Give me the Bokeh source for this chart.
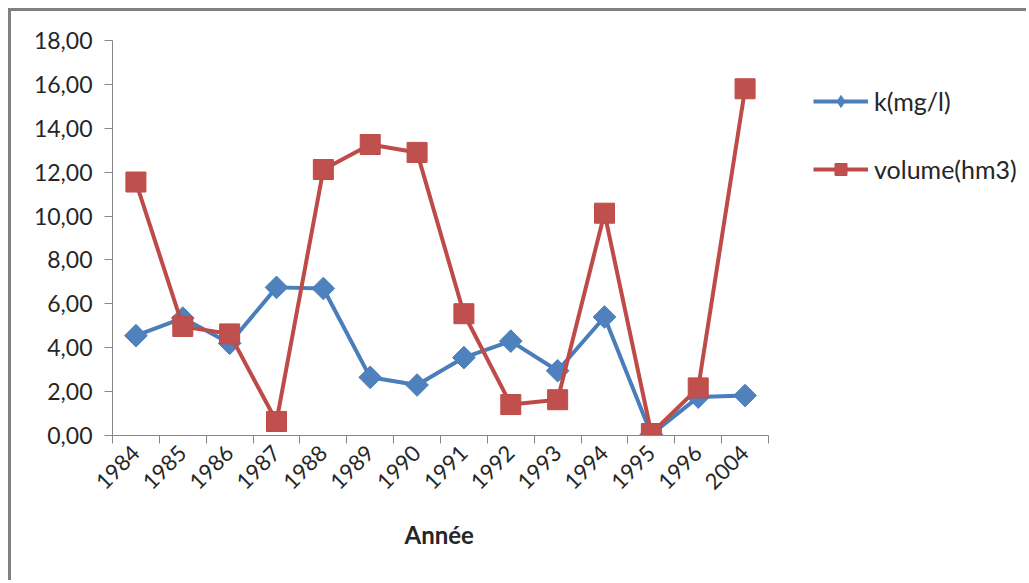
import math
from bokeh.plotting import figure
from bokeh.models import (Range1d, FixedTicker, CustomJSTickFormatter, Legend, LegendItem, Title)
from bokeh.embed import file_html
from bokeh.resources import INLINE

years = ["1984", "1985", "1986", "1987", "1988", "1989", "1990",
         "1991", "1992", "1993", "1994", "1995", "1996", "2004"]
k_mgl = [4.55, 5.35, 4.20, 6.75, 6.70, 2.65, 2.30, 3.55, 4.30, 2.95, 5.40, 0.05, 1.75, 1.82]
volume_hm3 = [11.55, 4.97, 4.63, 0.64, 12.12, 13.26, 12.90, 5.55, 1.41, 1.63, 10.13, 0.09, 2.17, 15.80]
y_ticks = [0, 2, 4, 6, 8, 10, 12, 14, 16, 18]

n = len(years)
xpos = [i + 0.5 for i in range(n)]

BLUE = "#4A7EBB"
BLUE_M = "#4F81BD"
RED = "#BE4B48"
RED_M = "#C0504D"
FONT = "Lato"
TXT = "#262626"

W, H = 1018, 572
LEFT, TOP, BOTTOM = 101, 29, 148
AXIS_PX = 656  # pixel length of the category axis
frame_w = W - LEFT
x_end = n * frame_w / AXIS_PX

p = figure(width=W, height=H, output_backend="svg", toolbar_location=None,
           x_range=Range1d(0, x_end), y_range=Range1d(0, 18),
           min_border_left=LEFT, min_border_top=TOP, min_border_right=0,
           min_border_bottom=BOTTOM,
           styles={"margin-left": "8px", "margin-top": "8px",
                   "border-top": "3px solid #808080", "border-left": "3px solid #808080"})
p.outline_line_color = None
p.xgrid.visible = False
p.ygrid.visible = False
p.background_fill_color = "white"
p.border_fill_color = "white"

# y axis
p.yaxis.ticker = FixedTicker(ticks=y_ticks, minor_ticks=[])
p.yaxis.formatter = CustomJSTickFormatter(code="return tick.toFixed(2).replace('.', ',');")
p.yaxis.axis_line_color = "#868686"
p.yaxis.major_tick_line_color = "#868686"
p.yaxis.major_tick_out = 8
p.yaxis.major_tick_in = 0
p.yaxis.minor_tick_line_color = None
p.yaxis.major_label_text_font = FONT
p.yaxis.major_label_text_font_size = "23px"
p.yaxis.major_label_text_color = TXT
p.yaxis.major_label_standoff = 12

# x axis
p.xaxis.ticker = FixedTicker(ticks=xpos, minor_ticks=list(range(n + 1)))
p.xaxis.bounds = (0, n)
p.xaxis.formatter = CustomJSTickFormatter(args=dict(labels=years),
                                          code="return labels[Math.floor(tick)];")
p.xaxis.axis_line_color = "#868686"
p.xaxis.major_tick_line_color = None
p.xaxis.minor_tick_line_color = "#868686"
p.xaxis.minor_tick_out = 8
p.xaxis.minor_tick_in = 0
p.xaxis.major_label_orientation = math.pi / 4
p.xaxis.major_label_text_font = FONT
p.xaxis.major_label_text_font_size = "22px"
p.xaxis.major_label_text_color = TXT
p.xaxis.major_label_standoff = 6

# x axis title, centred under the category axis
xtitle = Title(text="Année", align="left", offset=292, standoff=36,
               text_font=FONT, text_font_style="bold", text_font_size="24px",
               text_color=TXT)
p.add_layout(xtitle, "below")

lk = p.line(xpos, k_mgl, line_color=BLUE, line_width=4)
sk = p.scatter(xpos, k_mgl, marker="square", angle=math.pi / 4, size=16,
               fill_color=BLUE_M, line_color=BLUE)
lv = p.line(xpos, volume_hm3, line_color=RED, line_width=4)
sv = p.scatter(xpos, volume_hm3, marker="square", size=20,
               fill_color=RED_M, line_color=RED)
# legend-only diamond glyph (hidden in the plot)
dk = p.scatter(xpos, k_mgl, marker="diamond", fill_color=BLUE_M, line_color=BLUE,
               visible=False)

legend = Legend(items=[LegendItem(label="k(mg/l)", renderers=[lk, dk]),
                       LegendItem(label="volume(hm3)", renderers=[lv, sv])],
                location=(701, 251), padding=0, margin=0, spacing=38,
                glyph_width=55, glyph_height=30, label_height=20, label_standoff=6,
                border_line_color=None, background_fill_alpha=0,
                label_text_font=FONT, label_text_font_size="25px", label_text_color=TXT)
p.add_layout(legend, "center")

open("out.html", "w").write(file_html(p, INLINE))
